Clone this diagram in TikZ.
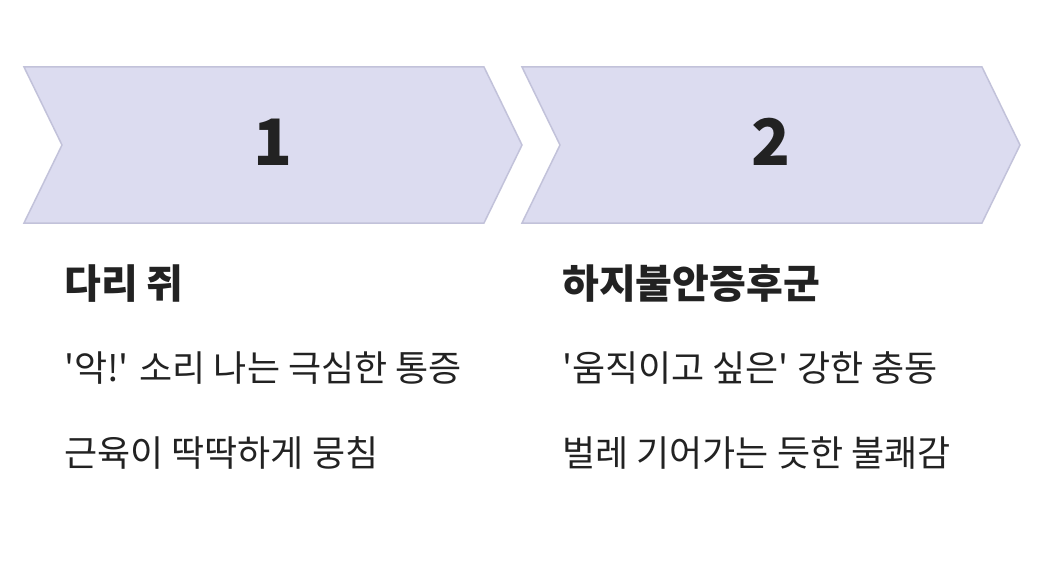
\documentclass[tikz,border=0pt]{standalone}
\usepackage{fontspec}
\newfontfamily\kr{Noto Sans CJK KR}
\newfontfamily\krblack{Noto Sans CJK KR Black}
\definecolor{chfill}{HTML}{DCDCF0}
\definecolor{chline}{HTML}{C2C2DA}
\definecolor{txt}{HTML}{222222}
\begin{document}
\begin{tikzpicture}[x=1pt,y=-1pt,
  chev/.style={fill=chfill,draw=chline,line width=1.5pt,line join=miter},
  num/.style={font=\krblack\fontsize{64}{66}\selectfont,text=txt},
  ttl/.style={anchor=west,font=\krblack\fontsize{40}{44}\selectfont,text=txt,inner sep=0},
  bod/.style={anchor=west,font=\kr\fontsize{36}{40}\selectfont,text=txt,inner sep=0}]
\useasboundingbox (0,0) rectangle (1042,586);
\fill[white] (0,0) rectangle (1042,586);
\draw[chev] (24,67) -- (484,67) -- (522,145) -- (484,223) -- (24,223) -- (62,145) -- cycle;
\draw[chev] (522,67) -- (982,67) -- (1020,145) -- (982,223) -- (522,223) -- (560,145) -- cycle;
\node[num] (n1) at (273,142) {1};
\node[num] (n2) at (771,142) {2};
\node[ttl] (t1) at (64,284) {다리 쥐};
\node[bod] (a1) at (64,368) {'악!' 소리 나는 극심한 통증};
\node[bod] (b1) at (64,453) {근육이 딱딱하게 뭉침};
\node[ttl] (t2) at (562,284) {하지불안증후군};
\node[bod] (a2) at (562,368) {'움직이고 싶은' 강한 충동};
\node[bod] (b2) at (562,453) {벌레 기어가는 듯한 불쾌감};
\end{tikzpicture}
\end{document}
